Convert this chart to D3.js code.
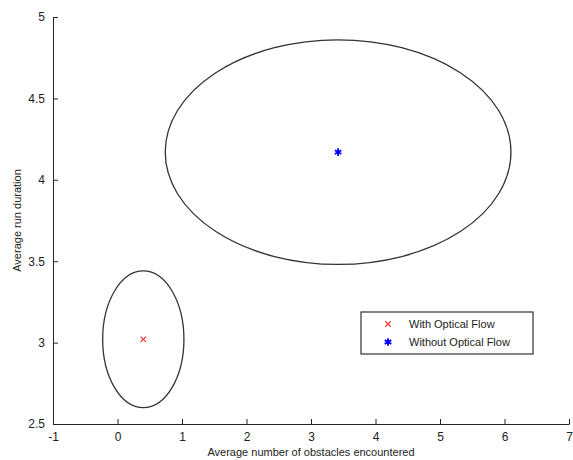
<!DOCTYPE html>
<html>
<head>
<meta charset="utf-8">
<script src="https://cdn.jsdelivr.net/npm/d3@7"></script>
<style>
  body { margin: 0; background: #fff; }
  text { font-family: "Liberation Sans", Arial, sans-serif; fill: #222; }
</style>
</head>
<body>
<div id="chart"></div>
<script>
// series: mean point and the ellipse half-widths around it
const seriesNames = ['With Optical Flow', 'Without Optical Flow'];
const seriesColors = ['#ff3030', '#0000ff'];
const centerX = [0.40, 3.42];
const centerY = [3.02, 4.17];
const radiusX = [0.63, 2.68];
const radiusY = [0.42, 0.69];

const xTicks = [-1, 0, 1, 2, 3, 4, 5, 6, 7];
const yTicks = [2.5, 3, 3.5, 4, 4.5, 5];

const width = 573, height = 460;
const margin = { top: 17, right: 4, bottom: 36, left: 53 };

const svg = d3.select('#chart')
  .append('svg')
  .attr('width', width)
  .attr('height', height);

const x = d3.scaleLinear().domain([-1, 7]).range([margin.left, width - margin.right]);
const y = d3.scaleLinear().domain([2.5, 5]).range([height - margin.bottom, margin.top]);

// axes, ticks pointing into the plot
svg.append('g')
  .attr('transform', `translate(0,${y(2.5)})`)
  .call(d3.axisBottom(x).tickValues(xTicks).tickFormat(d => d).tickSizeInner(-5).tickSizeOuter(0).tickPadding(8))
  .call(g => g.selectAll('text').style('font-size', '12px').attr('font-family', null))
  .call(g => g.selectAll('line, path').attr('stroke', '#222'));

svg.append('g')
  .attr('transform', `translate(${x(-1)},0)`)
  .call(d3.axisLeft(y).tickValues(yTicks).tickFormat(d => d).tickSizeInner(-5).tickSizeOuter(0).tickPadding(8))
  .call(g => g.selectAll('text').style('font-size', '12px').attr('font-family', null))
  .call(g => g.selectAll('line, path').attr('stroke', '#222'));

// axis titles
svg.append('text')
  .attr('x', (x(-1) + x(7)) / 2)
  .attr('y', height - 4)
  .attr('text-anchor', 'middle')
  .style('font-size', '11px')
  .text('Average number of obstacles encountered');

svg.append('text')
  .attr('transform', `translate(21,${(y(2.5) + y(5)) / 2}) rotate(-90)`)
  .attr('text-anchor', 'middle')
  .style('font-size', '11px')
  .text('Average run duration');

// ellipses
svg.selectAll('.ell')
  .data(d3.range(seriesNames.length))
  .enter().append('ellipse')
    .attr('class', 'ell')
    .attr('cx', i => x(centerX[i]))
    .attr('cy', i => y(centerY[i]))
    .attr('rx', i => x(centerX[i] + radiusX[i]) - x(centerX[i]))
    .attr('ry', i => y(centerY[i]) - y(centerY[i] + radiusY[i]))
    .attr('fill', 'none')
    .attr('stroke', '#333')
    .attr('stroke-width', 1.3);

const cross = d3.symbol().type(d3.symbolX).size(22);
const star = d3.symbol().type(d3.symbolAsterisk).size(40);
const shapes = [cross, star];

svg.selectAll('.pt')
  .data(d3.range(seriesNames.length))
  .enter().append('path')
    .attr('class', 'pt')
    .attr('transform', i => `translate(${x(centerX[i])},${y(centerY[i])})`)
    .attr('d', i => shapes[i]())
    .attr('fill', 'none')
    .attr('stroke', i => seriesColors[i])
    .attr('stroke-width', i => i === 0 ? 1.2 : 1.8);

// legend
const lg = svg.append('g').attr('transform', 'translate(361,312)');
lg.append('rect')
  .attr('width', 172).attr('height', 42)
  .attr('fill', '#fff').attr('stroke', '#333').attr('stroke-width', 1.2);

seriesNames.forEach((name, i) => {
  const row = lg.append('g').attr('transform', `translate(0,${12 + i * 18})`);
  row.append('path')
    .attr('transform', 'translate(27,0)')
    .attr('d', shapes[i]())
    .attr('fill', 'none')
    .attr('stroke', seriesColors[i])
    .attr('stroke-width', i === 0 ? 1.2 : 1.8);
  row.append('text')
    .attr('x', 48).attr('y', 4)
    .style('font-size', '11px')
    .text(name);
});
</script>
</body>
</html>
